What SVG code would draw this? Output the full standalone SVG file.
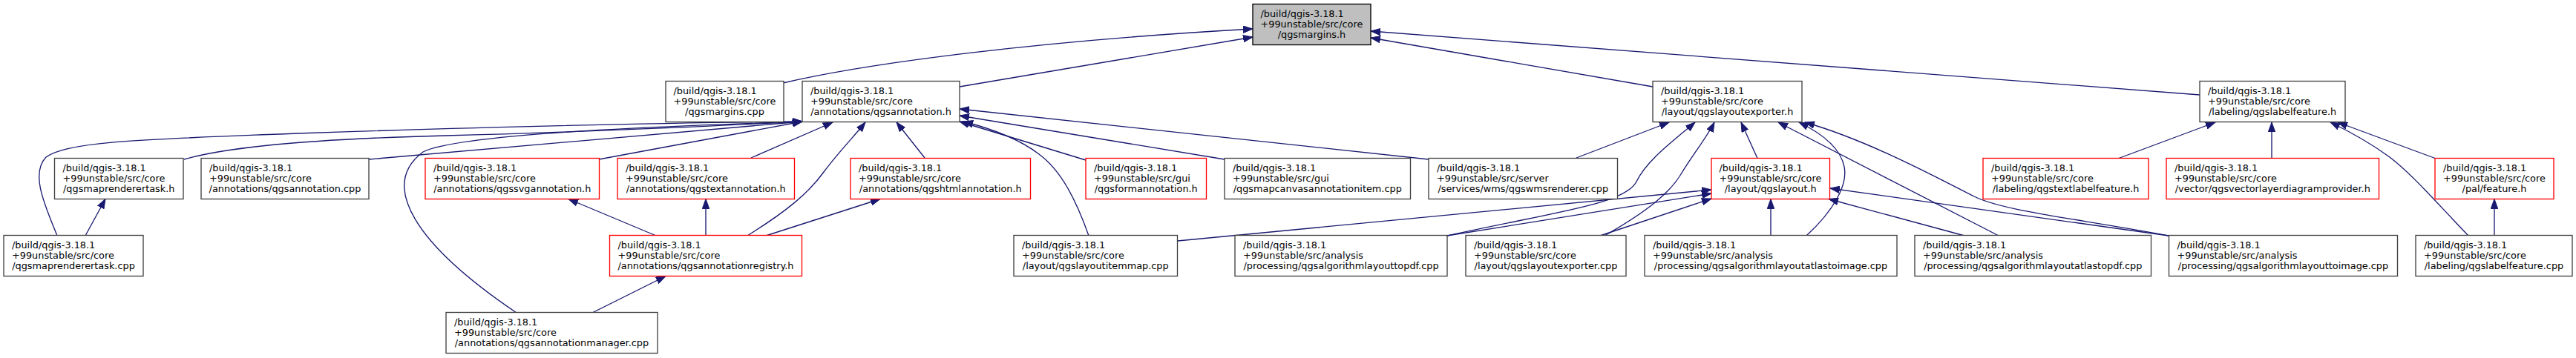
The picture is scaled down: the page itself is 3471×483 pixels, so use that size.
<svg xmlns="http://www.w3.org/2000/svg" width="3471" height="483" viewBox="0 0 3471 483">
<style>
rect{stroke-width:1.33}
.blk{fill:#ffffff;stroke:#404040}
.red{fill:#ffffff;stroke:#ff0000}
.main{fill:#bfbfbf;stroke:#000000}
text{font-family:"DejaVu Sans","Liberation Sans",sans-serif;font-size:12.85px;fill:#000000}
.c{text-anchor:middle}
.e{fill:none;stroke:#191970;stroke-width:1.33;marker-end:url(#ah)}
</style>
<defs>
<marker id="ah" markerUnits="userSpaceOnUse" markerWidth="14" markerHeight="10" viewBox="0 0 14 10" refX="13" refY="5" orient="auto">
<path d="M0,0.3 L13,5 L0,9.7 Z" fill="#191970" stroke="#191970" stroke-width="1"/>
</marker>
</defs>
<rect width="3471" height="483" fill="#ffffff"/>
<g id="edges">
<path class="e" d="M1055,112 C1170,85 1400,55 1688,39"/>
<path class="e" d="M1293,117 L1688,50"/>
<path class="e" d="M2227,117 L1847,51"/>
<path class="e" d="M2964,128 L1847,42"/>
<path class="e" d="M77,318 C62,280 40,235 62,212 C90,190 200,188 400,180 C700,170 950,165 1081,164"/>
<path class="e" d="M248,215 C300,200 400,188 600,183 C800,178 1000,168 1081,164"/>
<path class="e" d="M497,215 L1081,164"/>
<path class="e" d="M807,215 L1081,164"/>
<path class="e" d="M696,422 C560,330 510,250 570,205 C620,180 900,170 1081,164"/>
<path class="e" d="M1012,213 L1122,165"/>
<path class="e" d="M1007,318 C1060,285 1090,260 1110,232 C1130,205 1150,185 1166,165"/>
<path class="e" d="M1246,213 L1208,165"/>
<path class="e" d="M1467,318 C1450,270 1430,230 1400,208 C1370,185 1330,172 1298,164"/>
<path class="e" d="M1463,216 L1293,164"/>
<path class="e" d="M1650,215 L1293,156"/>
<path class="e" d="M1925,215 L1293,147"/>
<path class="e" d="M884,318 L766,268.5"/>
<path class="e" d="M951,318 L951,268.5"/>
<path class="e" d="M1032,318 L1186,268.5"/>
<path class="e" d="M798,422 L897,372.5"/>
<path class="e" d="M115,318 L142,268.5"/>
<path class="e" d="M2124,213 L2249,165"/>
<path class="e" d="M1950,318 C2100,285 2190,275 2205,245 C2220,215 2255,190 2284,165"/>
<path class="e" d="M2162,318 C2220,285 2250,260 2265,235 C2280,210 2300,185 2310,165"/>
<path class="e" d="M2368,213.5 L2346,165"/>
<path class="e" d="M2693,318 L2396,165"/>
<path class="e" d="M2434,318 C2470,285 2490,250 2485,225 C2480,200 2455,180 2424,165"/>
<path class="e" d="M2922,318 C2800,295 2700,285 2660,265 C2620,245 2520,190 2432,165"/>
<path class="e" d="M1587,325 L2306,256"/>
<path class="e" d="M1950,318 L2306,261"/>
<path class="e" d="M2156,318 L2306,268"/>
<path class="e" d="M2386,318 L2386,268.5"/>
<path class="e" d="M2647,318 L2464,268.5"/>
<path class="e" d="M2922,318 L2466,254"/>
<path class="e" d="M2855,213.5 L2985,165"/>
<path class="e" d="M3061,213.5 L3061,165"/>
<path class="e" d="M3326,318 C3280,270 3250,235 3220,212 C3190,190 3165,177 3140,165"/>
<path class="e" d="M3281,213.5 L3150,165"/>
<path class="e" d="M3361,318 L3361,268.5"/>
</g>
<g id="n_main"><rect class="main" x="1688" y="5.5" width="159" height="55"/><text x="1698.5" y="22.5">/build/qgis-3.18.1</text><text x="1698.5" y="36.5">+99unstable/src/core</text><text class="c" x="1767.5" y="50.5">/qgsmargins.h</text></g>
<g id="n_marginscpp"><rect class="blk" x="897" y="109.5" width="159" height="55"/><text x="907.5" y="126.5">/build/qgis-3.18.1</text><text x="907.5" y="140.5">+99unstable/src/core</text><text class="c" x="976.5" y="154.5">/qgsmargins.cpp</text></g>
<g id="n_annoth"><rect class="blk" x="1081" y="109.5" width="212" height="55"/><text x="1092" y="126.5">/build/qgis-3.18.1</text><text x="1092" y="140.5">+99unstable/src/core</text><text class="c" x="1187" y="154.5">/annotations/qgsannotation.h</text></g>
<g id="n_lexph"><rect class="blk" x="2227" y="109.5" width="201" height="55"/><text x="2238" y="126.5">/build/qgis-3.18.1</text><text x="2238" y="140.5">+99unstable/src/core</text><text class="c" x="2327.5" y="154.5">/layout/qgslayoutexporter.h</text></g>
<g id="n_lfh"><rect class="blk" x="2964" y="109.5" width="196" height="55"/><text x="2975" y="126.5">/build/qgis-3.18.1</text><text x="2975" y="140.5">+99unstable/src/core</text><text class="c" x="3062" y="154.5">/labeling/qgslabelfeature.h</text></g>
<g id="n_mrth"><rect class="blk" x="73.5" y="213.5" width="173.5" height="55"/><text x="84.5" y="230.5">/build/qgis-3.18.1</text><text x="84.5" y="244.5">+99unstable/src/core</text><text class="c" x="160.25" y="258.5">/qgsmaprenderertask.h</text></g>
<g id="n_annocpp"><rect class="blk" x="271" y="213.5" width="226" height="55"/><text x="282" y="230.5">/build/qgis-3.18.1</text><text x="282" y="244.5">+99unstable/src/core</text><text class="c" x="384" y="258.5">/annotations/qgsannotation.cpp</text></g>
<g id="n_svg"><rect class="red" x="573" y="213.5" width="234.5" height="55"/><text x="584" y="230.5">/build/qgis-3.18.1</text><text x="584" y="244.5">+99unstable/src/core</text><text class="c" x="690.25" y="258.5">/annotations/qgssvgannotation.h</text></g>
<g id="n_text"><rect class="red" x="832" y="213.5" width="238.5" height="55"/><text x="843" y="230.5">/build/qgis-3.18.1</text><text x="843" y="244.5">+99unstable/src/core</text><text class="c" x="951.25" y="258.5">/annotations/qgstextannotation.h</text></g>
<g id="n_html"><rect class="red" x="1146" y="213.5" width="242.5" height="55"/><text x="1157" y="230.5">/build/qgis-3.18.1</text><text x="1157" y="244.5">+99unstable/src/core</text><text class="c" x="1267.25" y="258.5">/annotations/qgshtmlannotation.h</text></g>
<g id="n_form"><rect class="red" x="1463" y="213.5" width="162.5" height="55"/><text x="1474" y="230.5">/build/qgis-3.18.1</text><text x="1474" y="244.5">+99unstable/src/gui</text><text class="c" x="1544.25" y="258.5">/qgsformannotation.h</text></g>
<g id="n_mapcanvas"><rect class="blk" x="1650" y="213.5" width="250.5" height="55"/><text x="1661" y="230.5">/build/qgis-3.18.1</text><text x="1661" y="244.5">+99unstable/src/gui</text><text class="c" x="1775.25" y="258.5">/qgsmapcanvasannotationitem.cpp</text></g>
<g id="n_wms"><rect class="blk" x="1925" y="213.5" width="254.5" height="55"/><text x="1936" y="230.5">/build/qgis-3.18.1</text><text x="1936" y="244.5">+99unstable/src/server</text><text class="c" x="2052.25" y="258.5">/services/wms/qgswmsrenderer.cpp</text></g>
<g id="n_layouth"><rect class="red" x="2306" y="213.5" width="159.5" height="55"/><text x="2316.5" y="230.5">/build/qgis-3.18.1</text><text x="2316.5" y="244.5">+99unstable/src/core</text><text class="c" x="2385.75" y="258.5">/layout/qgslayout.h</text></g>
<g id="n_textlf"><rect class="red" x="2672" y="213.5" width="223" height="55"/><text x="2683" y="230.5">/build/qgis-3.18.1</text><text x="2683" y="244.5">+99unstable/src/core</text><text class="c" x="2783.5" y="258.5">/labeling/qgstextlabelfeature.h</text></g>
<g id="n_vldp"><rect class="red" x="2919" y="213.5" width="286.5" height="55"/><text x="2930" y="230.5">/build/qgis-3.18.1</text><text x="2930" y="244.5">+99unstable/src/core</text><text class="c" x="3062.25" y="258.5">/vector/qgsvectorlayerdiagramprovider.h</text></g>
<g id="n_palfeat"><rect class="red" x="3281" y="213.5" width="160" height="55"/><text x="3292" y="230.5">/build/qgis-3.18.1</text><text x="3292" y="244.5">+99unstable/src/core</text><text class="c" x="3361" y="258.5">/pal/feature.h</text></g>
<g id="n_mrtcpp"><rect class="blk" x="5" y="317.5" width="188" height="55"/><text x="16" y="334.5">/build/qgis-3.18.1</text><text x="16" y="348.5">+99unstable/src/core</text><text class="c" x="99" y="362.5">/qgsmaprenderertask.cpp</text></g>
<g id="n_registry"><rect class="red" x="821.5" y="317.5" width="259" height="55"/><text x="832.5" y="334.5">/build/qgis-3.18.1</text><text x="832.5" y="348.5">+99unstable/src/core</text><text class="c" x="951" y="362.5">/annotations/qgsannotationregistry.h</text></g>
<g id="n_itemmap"><rect class="blk" x="1366" y="317.5" width="220.5" height="55"/><text x="1377" y="334.5">/build/qgis-3.18.1</text><text x="1377" y="348.5">+99unstable/src/core</text><text class="c" x="1476.25" y="362.5">/layout/qgslayoutitemmap.cpp</text></g>
<g id="n_topdf"><rect class="blk" x="1664" y="317.5" width="286" height="55"/><text x="1675" y="334.5">/build/qgis-3.18.1</text><text x="1675" y="348.5">+99unstable/src/analysis</text><text class="c" x="1807" y="362.5">/processing/qgsalgorithmlayouttopdf.cpp</text></g>
<g id="n_lexpcpp"><rect class="blk" x="1975" y="317.5" width="216" height="55"/><text x="1986" y="334.5">/build/qgis-3.18.1</text><text x="1986" y="348.5">+99unstable/src/core</text><text class="c" x="2083" y="362.5">/layout/qgslayoutexporter.cpp</text></g>
<g id="n_atlasimg"><rect class="blk" x="2216" y="317.5" width="340" height="55"/><text x="2227" y="334.5">/build/qgis-3.18.1</text><text x="2227" y="348.5">+99unstable/src/analysis</text><text class="c" x="2386" y="362.5">/processing/qgsalgorithmlayoutatlastoimage.cpp</text></g>
<g id="n_atlaspdf"><rect class="blk" x="2580" y="317.5" width="318.5" height="55"/><text x="2591" y="334.5">/build/qgis-3.18.1</text><text x="2591" y="348.5">+99unstable/src/analysis</text><text class="c" x="2739.25" y="362.5">/processing/qgsalgorithmlayoutatlastopdf.cpp</text></g>
<g id="n_toimg"><rect class="blk" x="2922.5" y="317.5" width="308" height="55"/><text x="2933.5" y="334.5">/build/qgis-3.18.1</text><text x="2933.5" y="348.5">+99unstable/src/analysis</text><text class="c" x="3076.5" y="362.5">/processing/qgsalgorithmlayouttoimage.cpp</text></g>
<g id="n_lfcpp"><rect class="blk" x="3255" y="317.5" width="211" height="55"/><text x="3266" y="334.5">/build/qgis-3.18.1</text><text x="3266" y="348.5">+99unstable/src/core</text><text class="c" x="3360.5" y="362.5">/labeling/qgslabelfeature.cpp</text></g>
<g id="n_mgr"><rect class="blk" x="601" y="421.5" width="285" height="55"/><text x="612" y="438.5">/build/qgis-3.18.1</text><text x="612" y="452.5">+99unstable/src/core</text><text class="c" x="743.5" y="466.5">/annotations/qgsannotationmanager.cpp</text></g>
</svg>
